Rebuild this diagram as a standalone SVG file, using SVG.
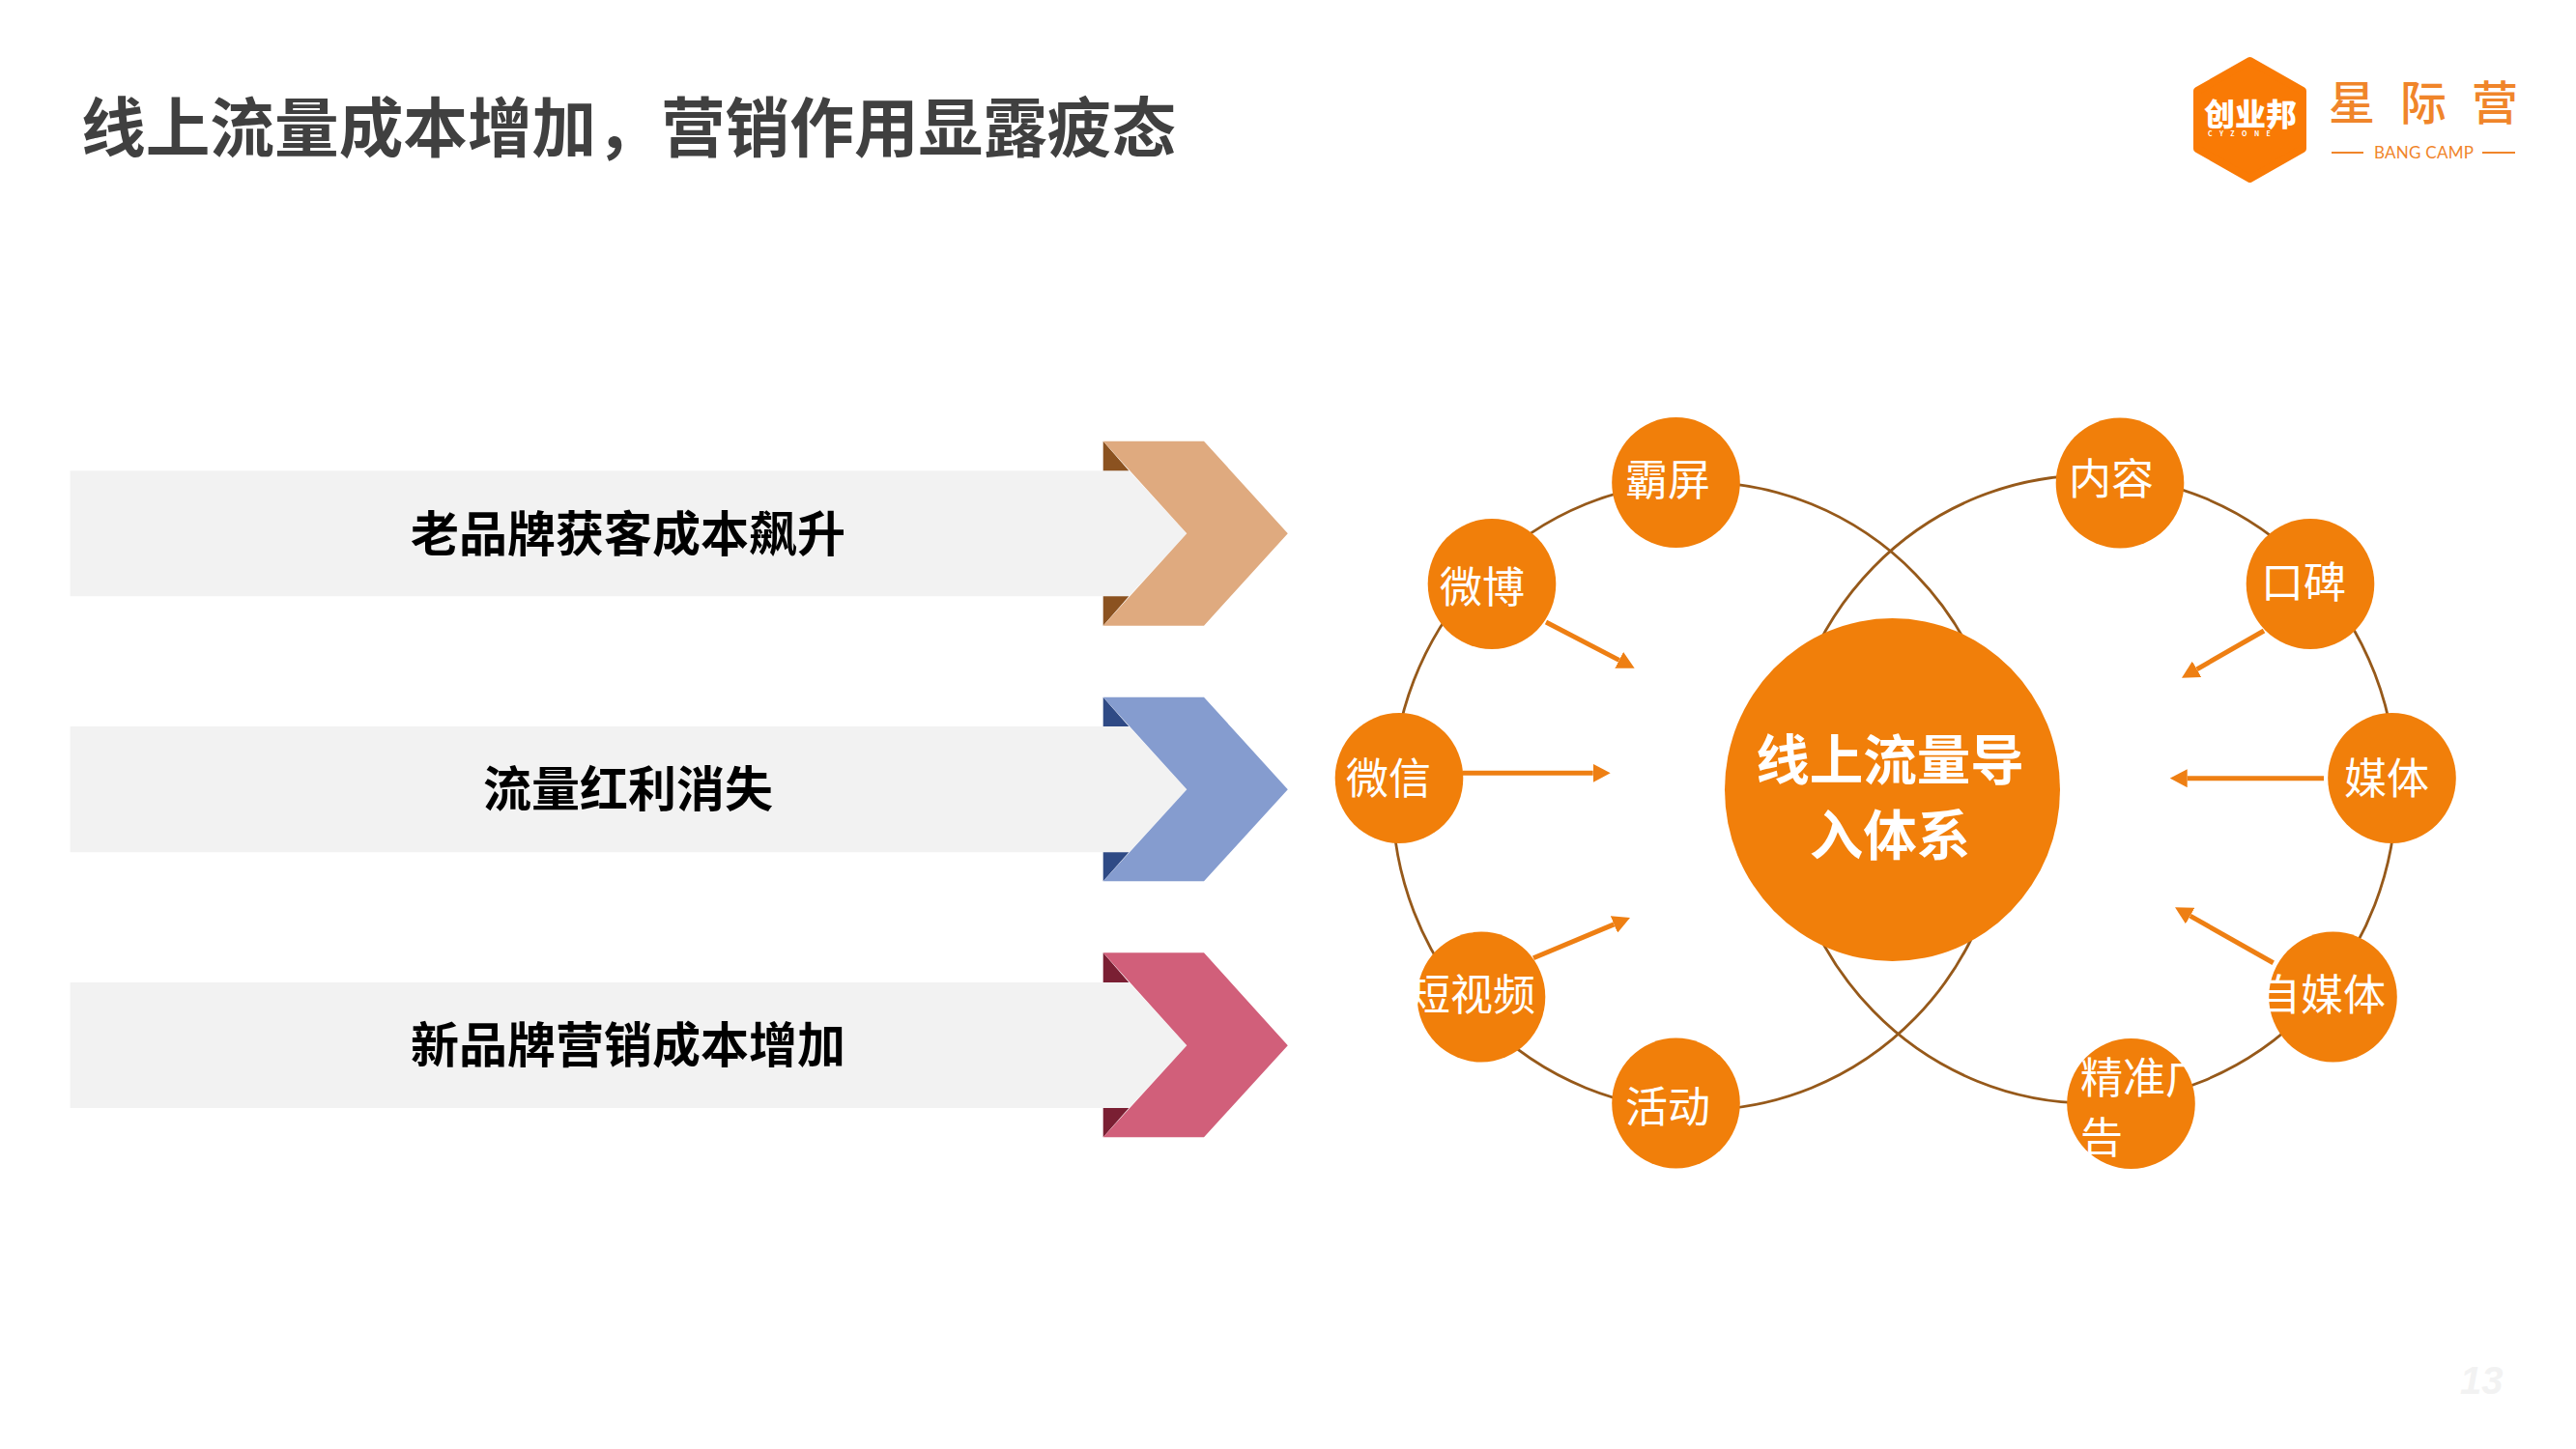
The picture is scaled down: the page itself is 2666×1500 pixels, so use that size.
<svg xmlns="http://www.w3.org/2000/svg" width="2666" height="1500" viewBox="0 0 2666 1500">
<style>
text{font-family:"Noto Sans CJK SC","Noto Sans",sans-serif}
.title{font-size:66.67px;font-weight:700;fill:#404040}
.bar{fill:#f2f2f2}
.barlabel{font-size:50px;font-weight:700;fill:#000;text-anchor:middle}
.node{fill:#f17f0a}
.nodelabel{font-size:44px;fill:#fff}
.centerlabel{font-size:55.5px;font-weight:700;fill:#fff;text-anchor:middle}
.ring{fill:none;stroke:#96591a;stroke-width:2.8}
.arrow{stroke:#ee7f13;stroke-width:5;fill:none;marker-end:url(#head)}
</style>
<defs>
<marker id="head" markerUnits="userSpaceOnUse" viewBox="0 -9.5 18 19" markerWidth="18" markerHeight="19" refX="0" refY="0" orient="auto"><path d="M0,-9.5L18,0L0,9.5Z" fill="#ee7f13"/></marker>
</defs>
<rect width="2666" height="1500" fill="#fff"/>
<text class="title" x="84" y="157">线上流量成本增加，营销作用显露疲态</text>

<g id="logo">
<path d="M2328.5 63L2383 94V154L2328.5 185L2274 154V94Z" fill="#f97a05" stroke="#f97a05" stroke-width="8" stroke-linejoin="round"/>
<text x="2281" y="130" style="font-size:32px;font-weight:900;fill:#fff">创业邦</text>
<text x="2285" y="141" style="font-size:7px;font-weight:700;fill:#fff;letter-spacing:7.5px">CYZONE</text>
<text x="2410" y="124" style="font-size:48px;font-weight:500;fill:#f0852a;letter-spacing:26px">星际营</text>
<text x="2457" y="164" textLength="103" style="font-family:Lato,'Open Sans',sans-serif;font-size:17px;fill:#f0852a">BANG CAMP</text>
<path d="M2413 158H2446M2569 158H2603" stroke="#f0852a" stroke-width="2" fill="none"/>
</g>

<g id="band-1">
<polygon class="bar" points="72.6,487.3 1168.3,487.3 1228.3,552.3 1168.3,617.3 72.6,617.3"/>
<polygon points="1141.7,456.7 1141.7,487.3 1168.3,487.3" fill="#8b5220"/>
<polygon points="1141.7,647.7 1141.7,617.3 1168.3,617.3" fill="#8b5220"/>
<polygon points="1141.7,456.7 1246,456.7 1332.8,552.3 1246,647.7 1141.7,647.7 1228.3,552.3" fill="#dfaa7f"/>
<text class="barlabel" x="650" y="571">老品牌获客成本飙升</text>
</g>
<g id="band-2">
<polygon class="bar" points="72.6,752 1168.3,752 1228.3,817.3 1168.3,882.3 72.6,882.3"/>
<polygon points="1141.7,721.7 1141.7,752 1168.3,752" fill="#2f4a85"/>
<polygon points="1141.7,912.3 1141.7,882.3 1168.3,882.3" fill="#2f4a85"/>
<polygon points="1141.7,721.7 1246,721.7 1332.8,817.3 1246,912.3 1141.7,912.3 1228.3,817.3" fill="#859ccf"/>
<text class="barlabel" x="650" y="835">流量红利消失</text>
</g>
<g id="band-3">
<polygon class="bar" points="72.6,1017 1168.3,1017 1228.3,1082.3 1168.3,1147 72.6,1147"/>
<polygon points="1141.7,986.3 1141.7,1017 1168.3,1017" fill="#7a1f33"/>
<polygon points="1141.7,1177.3 1141.7,1147 1168.3,1147" fill="#7a1f33"/>
<polygon points="1141.7,986.3 1246,986.3 1332.8,1082.3 1246,1177.3 1141.7,1177.3 1228.3,1082.3" fill="#d15f7a"/>
<text class="barlabel" x="650" y="1100">新品牌营销成本增加</text>
</g>

<g id="connectors">
<ellipse class="ring" cx="1758" cy="824" rx="317" ry="325"/>
<ellipse class="ring" cx="2163" cy="817" rx="317" ry="325"/>
<line class="arrow" x1="1600" y1="644" x2="1675.7" y2="683.4"/>
<line class="arrow" x1="1514" y1="800.3" x2="1648.7" y2="800.3"/>
<line class="arrow" x1="1587" y1="991.7" x2="1670.4" y2="956.9"/>
<line class="arrow" x1="2343" y1="653" x2="2273.6" y2="692.8"/>
<line class="arrow" x1="2405" y1="805.7" x2="2263.7" y2="805.7"/>
<line class="arrow" x1="2352.7" y1="996.7" x2="2266.7" y2="948.1"/>
</g>

<g id="center"><ellipse class="node" cx="1958.5" cy="817.5" rx="173.5" ry="177.5"/>
<text class="centerlabel" x="1956" y="807">线上流量导</text><text class="centerlabel" x="1956" y="885">入体系</text></g>
<g id="n-bapin"><ellipse class="node" cx="1734.5" cy="499.5" rx="66.3" ry="67.5"/><text class="nodelabel" x="1682" y="513">霸屏</text></g>
<g id="n-weibo"><ellipse class="node" cx="1544" cy="604.5" rx="66.3" ry="67.5"/><text class="nodelabel" x="1490" y="624">微博</text></g>
<g id="n-weixin"><ellipse class="node" cx="1448" cy="805.5" rx="66.3" ry="67.5"/><text class="nodelabel" x="1393" y="822">微信</text></g>
<g id="n-video"><ellipse class="node" cx="1533" cy="1032" rx="66.3" ry="67.5"/><text class="nodelabel" x="1457" y="1046">短视频</text></g>
<g id="n-event"><ellipse class="node" cx="1734.5" cy="1142" rx="66.3" ry="67.5"/><text class="nodelabel" x="1682" y="1162">活动</text></g>
<g id="n-content"><ellipse class="node" cx="2194" cy="500" rx="66.3" ry="67.5"/><text class="nodelabel" x="2141" y="512">内容</text></g>
<g id="n-wom"><ellipse class="node" cx="2391" cy="604.5" rx="66.3" ry="67.5"/><text class="nodelabel" x="2340" y="619">口碑</text></g>
<g id="n-media"><ellipse class="node" cx="2475.5" cy="805.5" rx="66.3" ry="67.5"/><text class="nodelabel" x="2426" y="822">媒体</text></g>
<g id="n-wemedia"><ellipse class="node" cx="2414.5" cy="1032" rx="66.3" ry="67.5"/><text class="nodelabel" x="2337" y="1046">自媒体</text></g>
<g id="n-ads"><ellipse class="node" cx="2205.5" cy="1142.5" rx="66.3" ry="67.5"/><text class="nodelabel" x="2153" y="1132">精准广</text><text class="nodelabel" x="2153" y="1194">告</text></g>

<text x="2546" y="1443" style="font-family:'Liberation Sans',sans-serif;font-size:40px;font-weight:700;font-style:italic;fill:#f2f2f2">13</text>
</svg>
